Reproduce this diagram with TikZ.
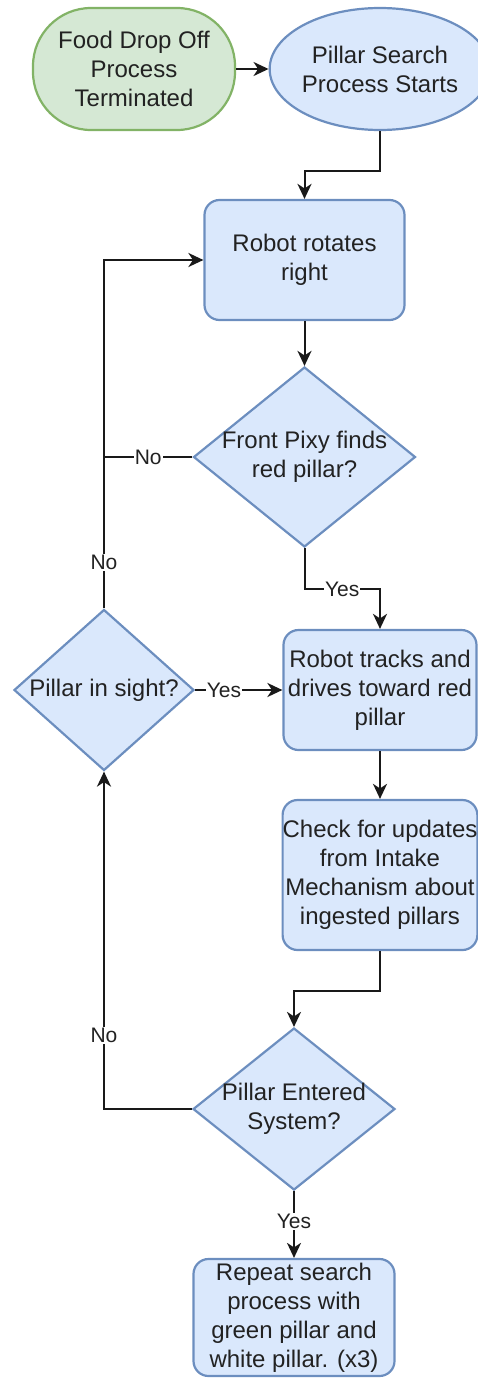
\documentclass[tikz,border=0pt]{standalone}
\usepackage{fontspec}
\setmainfont{Liberation Sans}
\usetikzlibrary{shapes.geometric,arrows.meta,calc}
\definecolor{bfill}{HTML}{DAE8FC}
\definecolor{bdraw}{HTML}{6C8EBF}
\definecolor{gfill}{HTML}{D5E8D4}
\definecolor{gdraw}{HTML}{82B366}
\definecolor{txt}{HTML}{222222}
\begin{document}
\begin{tikzpicture}[x=1pt,y=-1pt,
  base/.style={line width=2.2pt, text=txt, font=\fontsize{24}{29}\selectfont, align=center, inner sep=0pt},
  box/.style={base, draw=bdraw, fill=bfill, rounded corners=15pt},
  dia/.style={base, diamond, draw=bdraw, fill=bfill, inner sep=0pt},
  dtext/.style={text=txt, font=\fontsize{24}{29}\selectfont, align=center, inner sep=0pt},
  arr/.style={line width=2pt, draw=black!90, -{Stealth[length=15pt,width=14pt,inset=4.5pt]}},
  ln/.style={line width=2pt, draw=black!90},
  lbl/.style={fill=white, text=txt, font=\fontsize{21}{24}\selectfont, inner sep=1pt}
]
\useasboundingbox (0,0) rectangle (478,1378);

\node[base, draw=gdraw, fill=gfill, rounded corners=58pt, minimum width=202pt, minimum height=122pt] (start) at (134,69) {Food Drop Off\\Process\\Terminated};
\node[base, ellipse, draw=bdraw, fill=bfill, minimum width=193pt, minimum height=122pt] (ps) at (380,69) {Pillar Search\\Process Starts};

\node[box, minimum width=200pt, minimum height=120pt] (r1) at (304.5,260) {Robot rotates\\right};
\node[dia, minimum width=222pt, minimum height=180pt, label={[dtext]center:{Front Pixy finds\\red pillar?}}] (d1) at (304.5,457) {};
\node[box, minimum width=193pt, minimum height=120pt] (r2) at (380,690) {Robot tracks and\\drives toward red\\pillar};
\node[dia, minimum width=180pt, minimum height=161pt, label={[dtext]center:{Pillar in sight?}}] (d2) at (104,690) {};
\node[box, minimum width=193pt, minimum height=150pt] (r3) at (380,875) {Check for updates\\from Intake\\Mechanism about\\ingested pillars};
\node[dia, minimum width=202pt, minimum height=162pt, label={[dtext]center:{Pillar Entered\\System?}}] (d3) at (294,1109) {};
\node[box, minimum width=201pt, minimum height=117pt] (r4) at (294,1317.5) {Repeat search\\process with\\green pillar and\\white pillar. (x3)};

\draw[arr] (start.east) -- (ps.west);
\draw[arr] (ps.south) -- ++(0,40) -| (r1.north);
\draw[arr] (r1.south) -- (d1.north);
\draw[ln] (d1.west) -- node[lbl]{No} (d1.west -| d2.north);
\draw[arr] (d2.north) -- node[lbl, pos=0.132]{No} (d2.north |- r1.west) -- (r1.west);
\draw[arr] (d1.south) -- ++(0,41) -| node[lbl, pos=0.25]{Yes} (r2.north);
\draw[arr] (d2.east) -- node[lbl, pos=0.33]{Yes} (r2.west);
\draw[arr] (r2.south) -- (r3.north);
\draw[arr] (r3.south) -- ++(0,40) -| (d3.north);
\draw[arr] (d3.west) -- (d3.west -| d2.south) -- node[lbl, pos=0.218]{No} (d2.south);
\draw[arr] (d3.south) -- node[lbl, pos=0.45]{Yes} (r4.north);
\end{tikzpicture}
\end{document}
